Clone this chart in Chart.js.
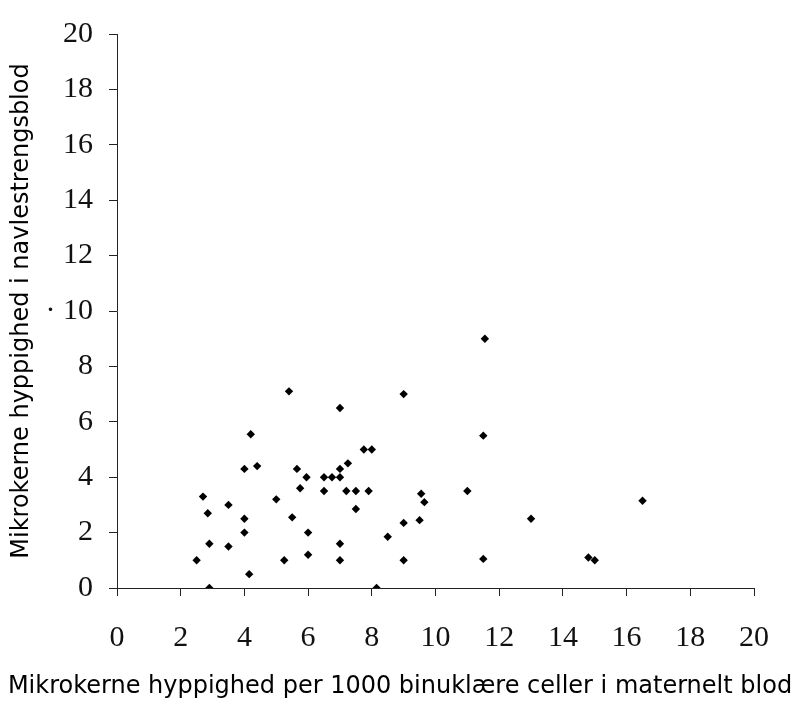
<!DOCTYPE html>
<html>
<head>
<meta charset="utf-8">
<script src="https://cdn.jsdelivr.net/npm/chart.js@4.4.1/dist/chart.umd.min.js"></script>
<style>
  html, body { margin: 0; padding: 0; background: #fff; }
  canvas { display: block; }
</style>
</head>
<body>
<canvas id="myChart" width="800" height="704"></canvas>
<script>
'use strict';

// maternal blood (x) vs cord blood (y), per 1000 binucleated cells
let xValues = [
  2.5, 2.7, 2.85, 2.9, 2.9, 3.5, 3.5, 4.0, 4.0, 4.0,
  4.2, 4.15, 4.4, 5.0, 5.25, 5.4, 5.5, 5.65, 5.75, 5.95,
  6.0, 6.0, 6.5, 6.5, 6.75, 7.0, 7.0, 7.0, 7.0, 7.0,
  7.25, 7.2, 7.5, 7.5, 7.75, 8.0, 7.9, 8.15, 8.5, 9.0,
  9.0, 9.0, 9.5, 9.55, 9.65, 11.0, 11.55, 11.5, 11.5, 13.0,
  14.8, 15.0, 16.5
];
let yValues = [
  1.0, 3.3, 2.7, 1.6, 0.0, 3.0, 1.5, 4.3, 2.5, 2.0,
  5.55, 0.5, 4.4, 3.2, 1.0, 7.1, 2.55, 4.3, 3.6, 4.0,
  2.0, 1.2, 4.0, 3.5, 4.0, 4.0, 4.3, 6.5, 1.6, 1.0,
  4.5, 3.5, 3.5, 2.85, 5.0, 5.0, 3.5, 0.0, 1.85, 7.0,
  2.35, 1.0, 2.45, 3.4, 3.1, 3.5, 9.0, 5.5, 1.05, 2.5,
  1.1, 1.0, 3.15
];
let axisTicks = [0, 2, 4, 6, 8, 10, 12, 14, 16, 18, 20];

let xTitle = 'Mikrokerne hyppighed per 1000 binuklære celler i maternelt blod';
let yTitle = 'Mikrokerne hyppighed i navlestrengsblod';

let points = [];
for (let i = 0; i < xValues.length; i++) {
  points.push({ x: xValues[i], y: yValues[i] });
}

const ctx = document.getElementById('myChart');

const tickFont = { family: '"Liberation Serif", "Times New Roman", serif', size: 30 };
const sansFamily = '"DejaVu Sans", Verdana, sans-serif';

new Chart(ctx, {
  type: 'scatter',
  data: {
    datasets: [{
      data: points,
      pointStyle: 'rectRot',
      pointRadius: 4.2,
      backgroundColor: '#000',
      borderColor: '#000',
      borderWidth: 0
    }]
  },
  options: {
    responsive: false,
    animation: false,
    devicePixelRatio: 1,
    layout: { padding: { top: 21, right: 0, left: 0, bottom: 0 } },
    plugins: {
      legend: { display: false },
      tooltip: { enabled: false },
      title: {
        display: true,
        position: 'bottom',
        text: xTitle,
        color: '#000',
        font: { family: sansFamily, size: 24, weight: 'normal', lineHeight: 1.25 },
        padding: { top: 0, bottom: 2 }
      }
    },
    scales: {
      x: {
        type: 'linear',
        min: 0,
        max: 20,
        afterBuildTicks: function(scale) {
          scale.ticks = axisTicks.map(v => ({ value: v }));
        },
        // title box is 32 high, so the axis sits at 704 - 32 - 84 = 588
        afterFit: function(scale) { scale.height = 84; },
        grid: { drawOnChartArea: false, drawTicks: true, tickLength: 8, color: '#222' },
        border: { display: true, color: '#222', width: 1 },
        ticks: { color: '#111', font: tickFont, padding: 24, maxRotation: 0, autoSkip: false }
      },
      y: {
        type: 'linear',
        min: 0,
        max: 20,
        afterBuildTicks: function(scale) {
          scale.ticks = axisTicks.map(v => ({ value: v }));
        },
        afterFit: function(scale) { scale.width = 117; },
        grid: { drawOnChartArea: false, drawTicks: true, tickLength: 8, color: '#222' },
        border: { display: true, color: '#222', width: 1 },
        ticks: {
          color: '#111',
          font: tickFont,
          padding: 16,
          autoSkip: false,
          callback: function(value) {
            // the source has a stray dot left of the 10 label
            return value === 10 ? '· 10' : String(value);
          }
        },
        title: {
          display: true,
          text: yTitle,
          color: '#000',
          font: { family: sansFamily, size: 24, weight: 'normal' },
          padding: { top: 7, bottom: 0 }
        }
      },
      // empty right-hand axis, only keeps the plot clear of the right edge
      spacer: {
        type: 'linear',
        position: 'right',
        display: true,
        min: 0,
        max: 20,
        afterFit: function(scale) { scale.width = 46; },
        grid: { display: false },
        border: { display: false },
        ticks: { display: false }
      }
    }
  }
});
</script>
</body>
</html>
